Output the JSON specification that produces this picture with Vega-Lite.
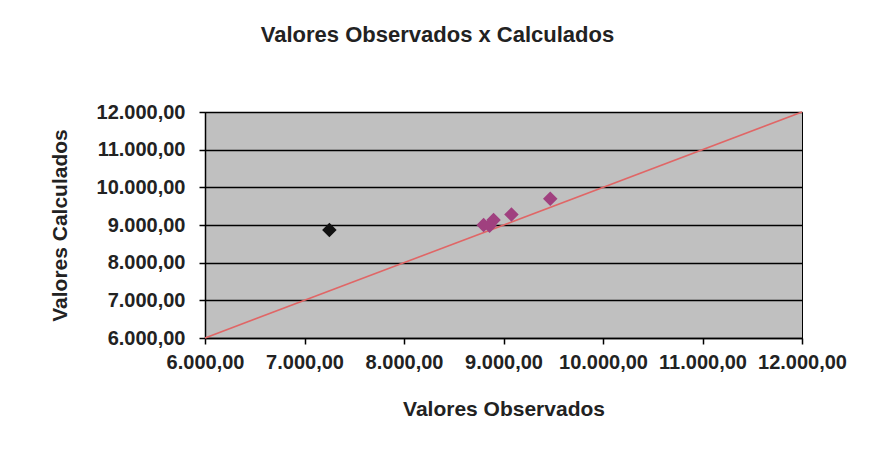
{
  "$schema": "https://vega.github.io/schema/vega-lite/v6.json",
  "width": 597,
  "height": 226,
  "autosize": {"type": "none"},
  "padding": {"left": 205, "top": 112, "right": 88, "bottom": 131},
  "background": "white",
  "config": {
    "locale": {"number": {"decimal": ",", "thousands": ".", "grouping": [3], "currency": ["", ""]}},
    "view": {"fill": "#C0C0C0", "stroke": "#000000", "strokeWidth": 1},
    "font": "Liberation Sans"
  },
  "title": {
    "text": "Valores Observados x Calculados",
    "font": "Liberation Sans",
    "fontSize": 22,
    "fontWeight": "bold",
    "color": "#222222",
    "anchor": "middle",
    "dx": -66,
    "offset": 55
  },
  "datasets": {
    "pts": [
      {"obs": 7250, "calc": 8870, "grupo": "outlier"},
      {"obs": 8800, "calc": 9000, "grupo": "main"},
      {"obs": 8860, "calc": 8980, "grupo": "main"},
      {"obs": 8900, "calc": 9130, "grupo": "main"},
      {"obs": 9080, "calc": 9280, "grupo": "main"},
      {"obs": 9470, "calc": 9700, "grupo": "main"}
    ],
    "ref": [
      {"obs": 6000, "calc": 6000},
      {"obs": 12000, "calc": 12000}
    ]
  },
  "layer": [
    {
      "data": {"name": "ref"},
      "mark": {"type": "line", "color": "#E06666", "strokeWidth": 1.6},
      "encoding": {
        "x": {
          "field": "obs", "type": "quantitative",
          "scale": {"domain": [6000, 12000], "nice": false},
          "axis": {
            "title": "Valores Observados",
            "titleFont": "Liberation Sans", "titleFontSize": 21, "titleFontWeight": "bold", "titleColor": "#222222",
            "titlePadding": 26,
            "format": ",.2f",
            "values": [6000, 7000, 8000, 9000, 10000, 11000, 12000],
            "tickCount": 20,
            "labelFont": "Liberation Sans", "labelFontSize": 20, "labelFontWeight": "bold", "labelColor": "#222222",
            "labelFlush": false, "labelOverlap": false, "labelPadding": 8,
            "grid": false,
            "domainColor": "#000000", "domainWidth": 1.5,
            "tickColor": "#000000", "tickSize": 6, "tickWidth": 1.5
          }
        },
        "y": {
          "field": "calc", "type": "quantitative",
          "scale": {"domain": [6000, 12000], "nice": false},
          "axis": {
            "title": "Valores Calculados",
            "titleFont": "Liberation Sans", "titleFontSize": 21, "titleFontWeight": "bold", "titleColor": "#222222",
            "titlePadding": 26,
            "format": ",.2f",
            "values": [6000, 7000, 8000, 9000, 10000, 11000, 12000],
            "tickCount": 20,
            "labelFont": "Liberation Sans", "labelFontSize": 20, "labelFontWeight": "bold", "labelColor": "#222222",
            "labelPadding": 14, "labelOverlap": false, "labelFlush": false,
            "grid": true, "gridColor": "#000000", "gridWidth": 1.5, "gridOpacity": 1,
            "domainColor": "#000000", "domainWidth": 1.5,
            "tickColor": "#000000", "tickSize": 6, "tickWidth": 1.5
          }
        }
      }
    },
    {
      "data": {"name": "pts"},
      "mark": {"type": "point", "shape": "diamond", "filled": true, "size": 210, "opacity": 1},
      "encoding": {
        "x": {"field": "obs", "type": "quantitative"},
        "y": {"field": "calc", "type": "quantitative"},
        "color": {
          "field": "grupo", "type": "nominal",
          "scale": {"domain": ["outlier", "main"], "range": ["#111111", "#A0407F"]},
          "legend": null
        }
      }
    }
  ]
}
